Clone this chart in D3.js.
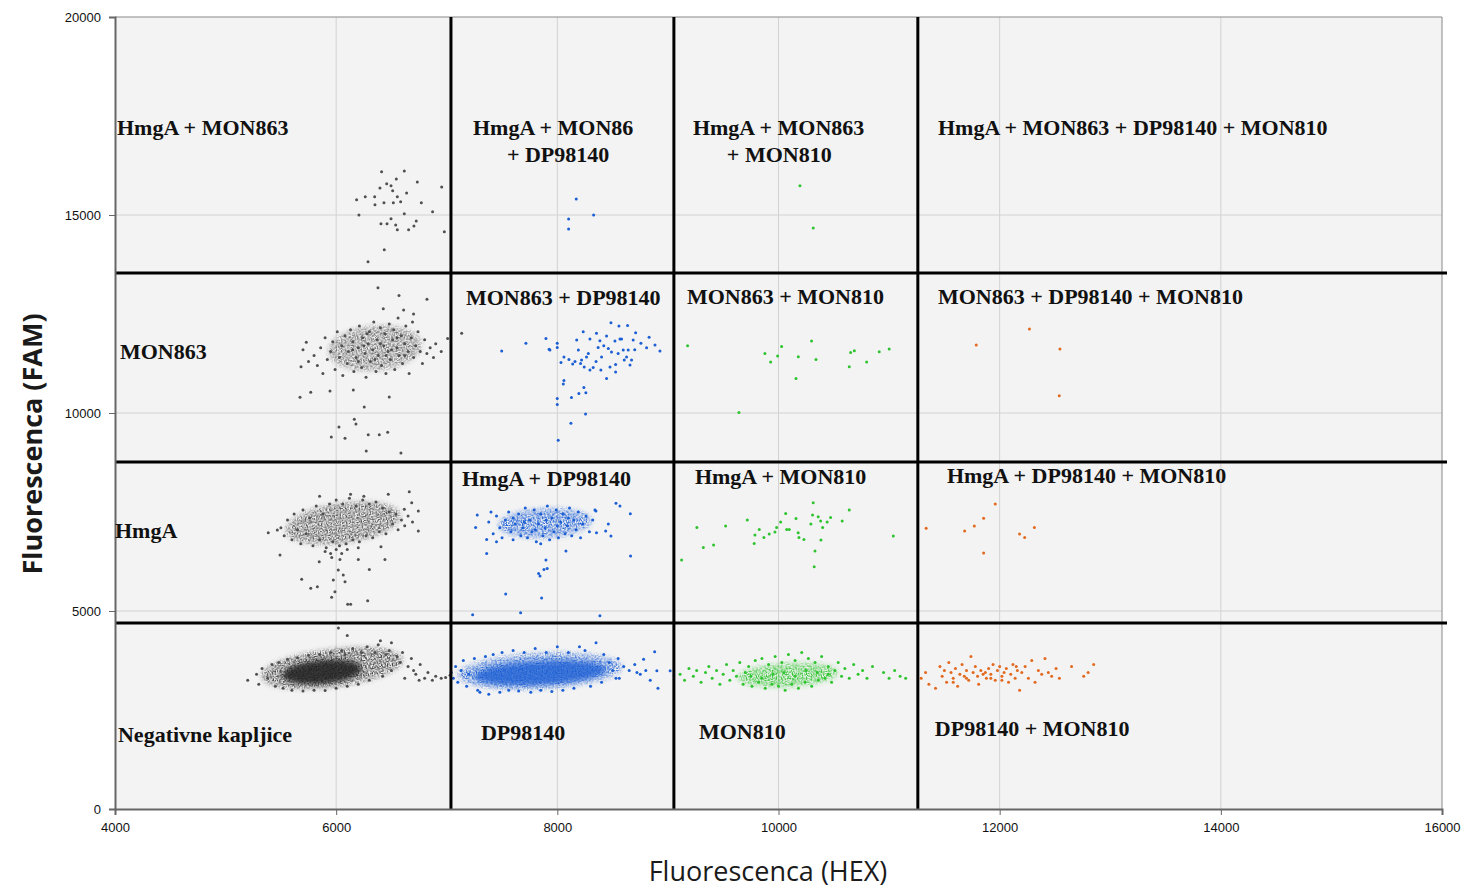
<!DOCTYPE html>
<html lang="en">
<head>
  <meta charset="utf-8">
  <script src="https://d3js.org/d3.v7.min.js"></script>
  <style>
    body {
      margin: 0;
      padding: 0;
      background: #fff;
    }
    .tick text {
      font-family: "Liberation Sans", Arial, sans-serif;
      font-size: 13px;
      fill: #111;
    }
    .lbl {
      font-family: "Liberation Serif", "Times New Roman", serif;
      font-weight: bold;
      font-size: 22px;
      fill: #111;
    }
  </style>
</head>
<body>
<svg width="1461" height="892"></svg>
<script>
  // axis ticks
  var xTicks = [4000, 6000, 8000, 10000, 12000, 14000, 16000];
  var yTicks = [0, 5000, 10000, 15000, 20000];

  // manual thresholds (HEX, FAM)
  var thresholdsX = [7038, 9054, 11260];
  var thresholdsY = [13535, 8763, 4697];

  // droplet clusters [HEX, FAM]
  var negativePts = [[5200,3250],[5280,3400],[5300,3150],[5330,3550],[5380,3300],[5420,3650],[5450,3100],[5480,3700],[5520,3050],[5560,3780],[5600,3000],[5650,3820],[5700,2980],[5750,3880],[5800,3000],[5850,3900],[5900,2990],[5950,3950],[6000,3050],[6050,4000],[6080,3900],[6100,3100],[6150,4050],[6200,3150],[6230,3950],[6280,4100],[6300,3250],[6350,3950],[6380,4150],[6420,3350],[6450,3900],[6480,4000],[6500,3500],[6550,3850],[6580,3700],[6600,3950],[6650,3600],[6680,3800],[6700,3500],[6720,3400],[6760,3650],[6800,3300],[6830,3450],[6870,3250],[6900,3350],[6950,3300],[6990,3320],[7030,3380],[6750,3250],[6620,3300],[6020,4570],[6100,4380],[6500,4200],[6400,4250]];

  var hmgaPts = [[5500,7100],[5530,6900],[5560,7300],[5600,6800],[5620,7450],[5650,7050],[5680,6700],[5700,7550],[5730,6950],[5760,7350],[5790,6650],[5820,7650],[5850,6800],[5880,7450],[5910,6600],[5940,7700],[5970,6750],[6000,7800],[6030,6650],[6060,7700],[6090,6700],[6120,7850],[6150,6800],[6180,7650],[6210,6750],[6240,7800],[6270,6900],[6300,7700],[6330,6850],[6360,7750],[6390,7000],[6420,7600],[6450,6950],[6480,7500],[6510,7200],[6540,7450],[6560,7050],[6590,7300],[6620,7150],[6650,7400],[6690,7250],[5900,6500],[5950,6450],[6000,6550],[6100,6550],[6200,6600],[6050,6450],[5960,6350],[6250,7900],[6130,7950],[5850,7900],
    [6471,7946],[6661,8012],[6683,7734],[6743,7525],[6743,7020],[6616,7568],[5386,6979],[5468,7045],[5492,6414],[5847,6245],[6034,6300],[6200,6300],[6300,6050],[6441,6300],[6405,6620],[5688,5800],[5770,5572],[5830,5613],[5974,5782],[6019,6035],[6064,5909],[6080,5740],[5989,5487],[5959,5345],[6104,5168],[6131,5168],[6285,5260]];

  var mon863Pts = [[5800,11450],[5830,11200],[5860,11650],[5880,11000],[5900,11900],[5920,11350],[5950,11550],[5970,11800],[5990,11100],[6010,12050],[6030,11400],[6050,11700],[6060,10950],[6080,11950],[6100,11250],[6110,11550],[6130,12100],[6150,11800],[6160,11050],[6180,11400],[6200,11650],[6210,12200],[6230,11150],[6240,11900],[6260,11500],[6270,10900],[6290,11750],[6300,12050],[6310,11300],[6330,11600],[6340,12300],[6360,11050],[6370,11850],[6380,11450],[6400,12150],[6410,11200],[6430,11700],[6440,12000],[6450,11000],[6470,11550],[6480,12250],[6490,11350],[6510,11850],[6520,12100],[6530,11100],[6550,11650],[6560,12400],[6570,11450],[6590,11950],[6600,11250],[6620,11750],[6630,12200],[6650,11550],[6660,11000],[6680,11900],[6690,12300],[6700,11400],[6720,11700],[6740,12050],[6760,11550],[6780,11250],[6800,11850],[6820,11500],[6850,11650],[6880,11400],[6900,11750],[6200,11300],[6350,11350],[6450,11450],[6280,12000],[6550,11900],[6150,11600],[6620,11450],[6400,11750],[6250,11700],[6500,11600],[5750,11300],[5700,11600],[6950,11550],[6700,12500],[6610,12600],
    [6378,13163],[6568,12970],[6821,12870],[6426,12633],[5673,10395],[5770,10521],[5944,10554],[6155,10580],[6254,10150],[6480,10403],[6164,9840],[6179,9721],[6025,9645],[5956,9393],[6080,9360],[6290,9452],[6390,9452],[6466,9511],[6272,9040],[6586,8989],[5682,11168],[5730,11784],[7008,11880],[7135,12011]];

  var hmgaMon863Pts = [[6411,16092],[6616,16110],[6544,15908],[6457,15790],[6496,15740],[6396,15680],[6734,15832],[6954,15706],[6511,15613],[6637,15554],[6263,15461],[6348,15461],[6553,15461],[6185,15386],[6351,15259],[6432,15310],[6517,15310],[6583,15335],[6770,15310],[6872,15083],[6206,15000],[6616,15032],[6405,14780],[6460,14780],[6496,14906],[6538,14746],[6553,14628],[6655,14628],[6703,14721],[6724,14847],[6978,14577],[6435,14123],[6288,13820]];

  var dp98140Pts = [[7040,3450],[7060,3300],[7080,3600],[7100,3200],[7130,3500],[7150,3750],[7180,3100],[7200,3400],[7250,3800],[7280,3000],[7300,2950],[7350,3850],[7380,2900],[7420,3900],[7480,2950],[7500,3950],[7560,3000],[7600,4000],[7650,2980],[7700,3950],[7760,2950],[7800,4050],[7850,3000],[7900,3950],[7950,2970],[8000,4100],[8050,3000],[8100,3950],[8150,3050],[8200,4100],[8250,4000],[8300,3100],[8350,4200],[8400,3200],[8420,3900],[8470,3700],[8500,3500],[8530,3300],[8550,3800],[8600,3600],[8650,3500],[8700,3650],[8720,3450],[8750,3400],[8800,3500],[8840,3250],[8880,3970],[8900,3490],[8910,3050],[9020,3490],[8780,3780],[8560,3300]];

  var hmgaDpPts = [[7380,7250],[7420,6950],[7450,7400],[7480,7100],[7500,6850],[7530,7300],[7560,7500],[7580,7000],[7600,6800],[7620,7200],[7650,7450],[7670,6900],[7690,7100],[7710,7600],[7730,6850],[7750,7300],[7770,7000],[7790,7550],[7810,6750],[7830,7200],[7850,7450],[7870,6900],[7890,7100],[7910,7650],[7930,6800],[7950,7350],[7970,7000],[7990,7550],[8010,6850],[8030,7250],[8050,7450],[8070,6950],[8090,7150],[8110,7600],[8130,6900],[8150,7300],[8170,7050],[8190,7500],[8210,6850],[8230,7200],[8260,7400],[8290,7000],[8320,7300],[8340,7550],[7700,7250],[7800,7050],[7900,7300],[8000,7150],[8100,7350],[7600,7350],[7850,6700],[7450,6750],[7400,7500],
    [7276,7424],[7261,7108],[7361,6805],[7361,6451],[7533,5429],[7858,5330],[7234,4906],[7668,4956],[8385,4880],[7843,5883],[7831,5947],[7879,6047],[7908,6073],[7897,6287],[8078,6515],[8530,7718],[8566,7650],[8660,7456],[8662,6388],[8461,7196],[8437,7020],[8485,6893],[8354,6979],[8349,7525]];

  var mon863DpPts = [[7497,11565],[7716,11760],[7897,11880],[7933,11590],[7999,11760],[7999,11655],[8033,11275],[8060,11416],[8105,11350],[8139,11236],[8175,11842],[8190,11590],[8219,11337],[8234,12050],[8264,11416],[8243,11163],[8295,11868],[8324,11150],[8354,12011],[8369,11655],[8394,11085],[8400,11416],[8445,10870],[8445,11943],[8461,11630],[8476,11163],[8485,12279],[8490,11540],[8521,11817],[8527,11037],[8527,11225],[8557,12196],[8566,11868],[8581,11868],[8596,11590],[8605,11337],[8626,11416],[8635,12212],[8641,11590],[8657,11211],[8671,11337],[8686,11842],[8708,12027],[8756,11760],[8807,11650],[8830,11910],[8883,11716],[8928,11565],[8060,10820],[8054,10735],[7999,10365],[7999,10214],[8128,10390],[8195,10491],[8240,10643],[8258,10512],[8255,9974],[8123,9740],[8008,9310],[7926,11608],[8210,11250],[8295,11085],[8385,11825],[8160,11300],[8280,11500],[8350,11300],[8420,11700],[8550,11500],[8700,11600]];

  var hmgaMon863DpPts = [[8171,15403],[8328,15000],[8102,14898],[8102,14645]];

  var mon810Pts = [[9110,3400],[9150,3250],[9190,3550],[9230,3350],[9260,3500],[9300,3200],[9340,3450],[9370,3600],[9400,3300],[9440,3500],[9470,3150],[9500,3400],[9530,3650],[9560,3250],[9590,3500],[9620,3350],[9650,3700],[9680,3150],[9700,3450],[9730,3600],[9760,3100],[9790,3750],[9820,3200],[9850,3800],[9880,3050],[9910,3650],[9940,3150],[9970,3850],[10000,3100],[10030,3700],[10060,3000],[10090,3900],[10120,3150],[10150,3750],[10180,3050],[10210,3950],[10240,3200],[10270,3800],[10300,3100],[10330,3700],[10360,3250],[10390,3850],[10420,3300],[10450,3600],[10480,3200],[10510,3500],[10540,3700],[10570,3350],[10600,3550],[10640,3300],[10680,3650],[10720,3400],[10760,3500],[10800,3300],[10850,3600],[10950,3450],[11000,3300],[11050,3500],[11100,3350],[11150,3300],[9950,3400],[10050,3450],[10150,3350],[10250,3500],[9850,3300],[9750,3350],[10350,3450],[10450,3400]];

  var hmgaMon810Pts = [[9124,6287],[9262,7108],[9320,6603],[9413,6666],[9522,7146],[9718,7297],[9787,6919],[9826,7058],[9868,6856],[9780,6704],[9916,6944],[9968,6995],[9983,7108],[10019,7247],[10065,7462],[10074,7058],[10097,7058],[10158,7335],[10178,6979],[10185,6856],[10230,6805],[10293,7196],[10314,7734],[10308,7424],[10359,7381],[10381,7272],[10399,7108],[10384,6792],[10440,7247],[10471,7358],[10576,7272],[10640,7550],[10330,6515],[10323,6120],[11038,6893]];

  var mon863Mon810Pts = [[9178,11696],[9642,10010],[9877,11500],[9929,11290],[9992,11441],[10028,11681],[10158,10870],[10179,11420],[10299,11817],[10339,11353],[10640,11168],[10652,11530],[10686,11570],[10797,11290],[10911,11545],[11001,11615]];

  var hmgaMon863Mon810Pts = [[10194,15740],[10314,14670]];

  var dpMon810Pts = [[11290,3300],[11330,3450],[11360,3150],[11420,3050],[11460,3600],[11480,3350],[11500,3500],[11520,3200],[11540,3700],[11560,3450],[11580,3300],[11600,3550],[11620,3100],[11640,3400],[11660,3650],[11680,3350],[11700,3500],[11720,3250],[11740,3850],[11760,3450],[11780,3600],[11800,3350],[11810,3150],[11830,3500],[11850,3400],[11870,3450],[11880,3300],[11900,3550],[11920,3400],[11940,3650],[11960,3250],[11980,3500],[12000,3600],[12020,3350],[12040,3450],[12060,3550],[12080,3200],[12100,3400],[12120,3650],[12140,3300],[12160,3500],[12180,3000],[12200,3450],[12230,3600],[12260,3300],[12290,3750],[12320,3200],[12350,3500],[12380,3400],[12410,3800],[12440,3450],[12470,3350],[12510,3550],[12540,3300],[12650,3600],[12760,3350],[12800,3450],[12850,3650],[11700,3300],[11920,3300],[12020,3250],[11580,3200],[12150,3600]];

  var hmgaDpMon810Pts = [[11335,7088],[11683,7020],[11771,7146],[11855,7340],[11960,7701],[11855,6464],[12180,6944],[12226,6856],[12314,7108]];

  var mon863DpMon810Pts = [[11788,11716],[12269,12120],[12545,11615],[12539,10436]];

  // dense cluster cores: [centreHEX, centreFAM, radiusHEX, radiusFAM]
  var coreNegOuter = [5962, 3560, 640, 470];
  var coreNegInner = [5872, 3460, 362, 303];
  var coreHmga = [6062, 7222, 520, 500];
  var coreMon863 = [6351, 11640, 420, 560];
  var coreDpOuter = [7843, 3485, 740, 440];
  var coreDpInner = [7843, 3434, 600, 300];
  var coreHmgaDp = [7888, 7222, 420, 360];
  var coreMon810 = [10085, 3384, 450, 290];

  var labelText = [
    ["HmgA + MON863"], ["HmgA + MON86", "+ DP98140"], ["HmgA + MON863", "+ MON810"], ["HmgA + MON863 + DP98140 + MON810"],
    ["MON863"], ["MON863 + DP98140"], ["MON863 + MON810"], ["MON863 + DP98140 + MON810"],
    ["HmgA"], ["HmgA + DP98140"], ["HmgA + MON810"], ["HmgA + DP98140 + MON810"],
    ["Negativne kapljice"], ["DP98140"], ["MON810"], ["DP98140 + MON810"]
  ];

  var svg = d3.select("svg"),
    margin = {top: 17, right: 19, bottom: 83, left: 115},
    width = +svg.attr("width") - margin.left - margin.right,
    height = +svg.attr("height") - margin.top - margin.bottom,
    g = svg.append("g").attr("transform", "translate(" + margin.left + "," + margin.top + ")");

  var x = d3.scaleLinear().domain([4000, 16000]).range([0, width]);
  var y = d3.scaleLinear().domain([0, 20000]).range([height, 0]);

  var gray = "#505050", blue = "#1c5fd4", green = "#2fc42f", orange = "#e3691f";

  // speckled fill for the dense droplet cores
  var defs = svg.append("defs");
  var grain = defs.append("filter").attr("id", "grain")
    .attr("x", "-30%").attr("y", "-30%").attr("width", "160%").attr("height", "160%");
  grain.append("feGaussianBlur").attr("in", "SourceGraphic").attr("stdDeviation", 2.5).attr("result", "blur");
  grain.append("feTurbulence").attr("type", "fractalNoise").attr("baseFrequency", 0.8)
    .attr("numOctaves", 1).attr("seed", 4).attr("result", "noise");
  grain.append("feColorMatrix").attr("in", "noise").attr("type", "matrix")
    .attr("values", "0 0 0 0 0  0 0 0 0 0  0 0 0 0 0  4 0 0 0 -1.6").attr("result", "mask");
  grain.append("feComposite").attr("in", "blur").attr("in2", "mask").attr("operator", "in");

  defs.append("filter").attr("id", "soft")
    .attr("x", "-30%").attr("y", "-30%").attr("width", "160%").attr("height", "160%")
    .append("feGaussianBlur").attr("stdDeviation", 2.5);

  g.append("rect")
    .attr("width", width)
    .attr("height", height)
    .attr("fill", "#f3f3f3");

  // grid
  g.append("g").selectAll("line")
    .data(xTicks.slice(1, -1))
    .enter().append("line")
    .attr("x1", function(d) { return x(d); })
    .attr("x2", function(d) { return x(d); })
    .attr("y1", 0).attr("y2", height)
    .attr("stroke", "#d2d2d2");
  g.append("g").selectAll("line")
    .data(yTicks.slice(1, -1))
    .enter().append("line")
    .attr("y1", function(d) { return y(d); })
    .attr("y2", function(d) { return y(d); })
    .attr("x1", 0).attr("x2", width)
    .attr("stroke", "#d2d2d2");

  // frame
  g.append("line").attr("x1", 0).attr("x2", width).attr("y1", 0).attr("y2", 0).attr("stroke", "#888");
  g.append("line").attr("x1", width).attr("x2", width).attr("y1", 0).attr("y2", height).attr("stroke", "#888");

  // cores (dense centres of the clusters)
  var cores = [
    {c: coreNegOuter, fill: "#3a3a3a", op: 1, rot: -7, f: "grain"},
    {c: coreNegInner, fill: "#1c1c1c", op: 0.85, rot: -5, f: "soft"},
    {c: coreHmga, fill: gray, op: 1, rot: -8, f: "grain"},
    {c: coreMon863, fill: gray, op: 0.8, rot: -5, f: "grain"},
    {c: coreDpOuter, fill: blue, op: 1, rot: -3, f: "grain"},
    {c: coreDpInner, fill: blue, op: 0.8, rot: -3, f: "soft"},
    {c: coreHmgaDp, fill: blue, op: 1, rot: -3, f: "grain"},
    {c: coreMon810, fill: green, op: 1, rot: -3, f: "grain"}
  ];
  g.append("g").selectAll("ellipse")
    .data(cores)
    .enter().append("ellipse")
    .attr("cx", function(d) { return x(d.c[0]); })
    .attr("cy", function(d) { return y(d.c[1]); })
    .attr("rx", function(d) { return x(d.c[0] + d.c[2]) - x(d.c[0]); })
    .attr("ry", function(d) { return y(d.c[1]) - y(d.c[1] + d.c[3]); })
    .attr("transform", function(d) { return "rotate(" + d.rot + "," + x(d.c[0]) + "," + y(d.c[1]) + ")"; })
    .attr("fill", function(d) { return d.fill; })
    .attr("opacity", function(d) { return d.op; })
    .attr("filter", function(d) { return "url(#" + d.f + ")"; });

  var series = [
    {pts: negativePts, color: gray}, {pts: hmgaPts, color: gray}, {pts: mon863Pts, color: gray}, {pts: hmgaMon863Pts, color: gray},
    {pts: dp98140Pts, color: blue}, {pts: hmgaDpPts, color: blue}, {pts: mon863DpPts, color: blue}, {pts: hmgaMon863DpPts, color: blue},
    {pts: mon810Pts, color: green}, {pts: hmgaMon810Pts, color: green}, {pts: mon863Mon810Pts, color: green}, {pts: hmgaMon863Mon810Pts, color: green},
    {pts: dpMon810Pts, color: orange}, {pts: hmgaDpMon810Pts, color: orange}, {pts: mon863DpMon810Pts, color: orange}
  ];

  g.append("g").selectAll("g")
    .data(series)
    .enter().append("g")
    .attr("fill", function(d) { return d.color; })
    .selectAll("circle")
    .data(function(d) { return d.pts; })
    .enter().append("circle")
    .attr("cx", function(d) { return x(d[0]); })
    .attr("cy", function(d) { return y(d[1]); })
    .attr("r", 1.5);

  // thresholds
  g.append("g").selectAll("line")
    .data(thresholdsX)
    .enter().append("line")
    .attr("x1", function(d) { return x(d); })
    .attr("x2", function(d) { return x(d); })
    .attr("y1", 0).attr("y2", height)
    .attr("stroke", "#000").attr("stroke-width", 3);
  g.append("g").selectAll("line")
    .data(thresholdsY)
    .enter().append("line")
    .attr("y1", function(d) { return y(d); })
    .attr("y2", function(d) { return y(d); })
    .attr("x1", 0).attr("x2", width + 5)
    .attr("stroke", "#000").attr("stroke-width", 3);

  // axes
  var xAxis = g.append("g")
    .attr("transform", "translate(0," + height + ")")
    .call(d3.axisBottom(x).tickValues(xTicks).tickFormat(d3.format("d")).tickSize(6).tickPadding(8));
  var yAxis = g.append("g")
    .call(d3.axisLeft(y).tickValues(yTicks).tickFormat(d3.format("d")).tickSize(6).tickPadding(8));
  xAxis.select(".domain").attr("stroke", "#666").attr("stroke-width", 2);
  yAxis.select(".domain").attr("stroke", "#666").attr("stroke-width", 2);
  xAxis.selectAll(".tick line").attr("stroke", "#666");
  yAxis.selectAll(".tick line").attr("stroke", "#666");
  yAxis.selectAll(".tick text").attr("dy", "0.35em");

  // quadrant labels, anchored in data units (HEX of first line, FAM baseline)
  var labelPos = [
    [4018, 17019], [7237, 17019], [9226, 17019], [11442, 17019],
    [4045, 11362], [7174, 12726], [9172, 12751], [11442, 12751],
    [4000, 6843], [7138, 8156], [9244, 8206], [11523, 8232],
    [4027, 1692], [7309, 1742], [9281, 1768], [11414, 1843]
  ];
  var secondLineX = {1: 7544, 2: 9533};

  labelText.forEach(function(lines, i) {
    var t = g.append("text").attr("class", "lbl");
    lines.forEach(function(line, j) {
      t.append("tspan")
        .attr("x", j === 0 ? x(labelPos[i][0]) : x(secondLineX[i]))
        .attr("y", y(labelPos[i][1]) + j * 27)
        .text(line);
    });
  });

  // axis titles
  svg.append("text")
    .attr("x", 768)
    .attr("y", 881)
    .attr("text-anchor", "middle")
    .style("font-family", "'Open Sans', sans-serif")
    .style("font-size", "27px")
    .style("fill", "#1a1a1a")
    .text("Fluorescenca (HEX)");

  svg.append("text")
    .attr("transform", "translate(42,444) rotate(-90)")
    .attr("text-anchor", "middle")
    .style("font-family", "'Open Sans', sans-serif")
    .style("font-size", "27px")
    .style("font-weight", "bold")
    .style("fill", "#1a1a1a")
    .text("Fluorescenca (FAM)");
</script>
</body>
</html>
